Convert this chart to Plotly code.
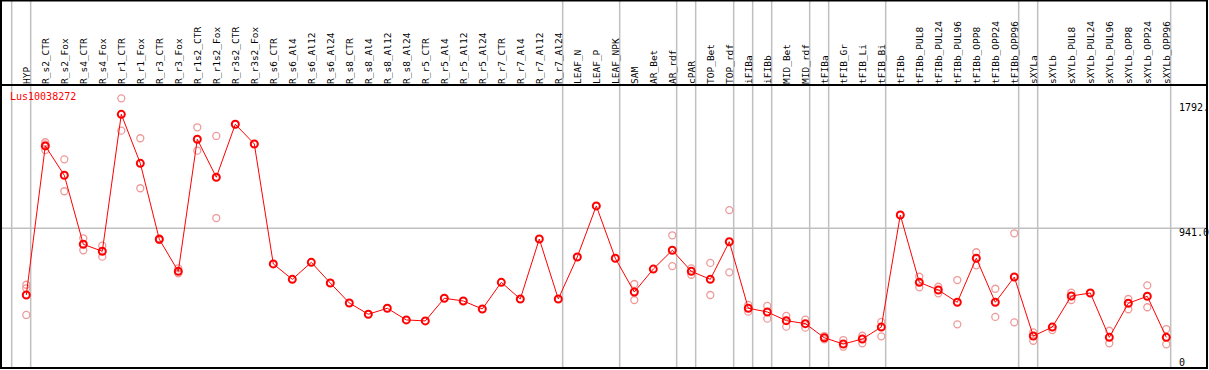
import plotly.graph_objects as go

categories = ["HYP", "R_s2_CTR", "R_s2_Fox", "R_s4_CTR", "R_s4_Fox", "R_r1_CTR", "R_r1_Fox",
              "R_r3_CTR", "R_r3_Fox", "R_r1s2_CTR", "R_r1s2_Fox", "R_r3s2_CTR", "R_r3s2_Fox",
              "R_s6_CTR", "R_s6_Al4", "R_s6_Al12", "R_s6_Al24", "R_s8_CTR", "R_s8_Al4",
              "R_s8_Al12", "R_s8_Al24", "R_r5_CTR", "R_r5_Al4", "R_r5_Al12", "R_r5_Al24",
              "R_r7_CTR", "R_r7_Al4", "R_r7_Al12", "R_r7_Al24", "LEAF_N", "LEAF_P", "LEAF_NPK",
              "SAM", "AR_Bet", "AR_rdf", "cPAR", "TOP_Bet", "TOP_rdf", "iFIBa", "iFIBb",
              "MID_Bet", "MID_rdf", "tFIBa", "tFIB_Gr", "tFIB_Li", "tFIB_Bi", "tFIBb",
              "tFIBb_PUL8", "tFIBb_PUL24", "tFIBb_PUL96", "tFIBb_OPP8", "tFIBb_OPP24",
              "tFIBb_OPP96", "sXYLa", "sXYLb", "sXYLb_PUL8", "sXYLb_PUL24", "sXYLb_PUL96",
              "sXYLb_OPP8", "sXYLb_OPP24", "sXYLb_OPP96"]

mean_values = [473, 1519, 1313, 829, 780, 1741, 1397, 864, 639, 1566, 1299, 1671, 1533,
               691, 583, 702, 557, 417, 338, 380, 298, 291, 450, 431, 375, 562, 445, 866, 445,
               740, 1098, 731, 494, 655, 787, 639, 583, 847, 380, 354, 293, 272, 173, 129, 164,
               248, 1034, 562, 508, 422, 731, 422, 599, 185, 248, 466, 487, 176, 415, 464, 176]

replicate_values = [
    [545, 520, 333], [1545, 1530, 1490], [1425, 1201], [871, 787], [819, 742],
    [1853, 1626], [1573, 1222], [870, 858], [660, 625], [1650, 1486], [1589, 1013],
    [1671], [1533], [], [], [], [], [], [], [], [], [], [], [], [], [], [], [], [],
    [], [], [], [550, 495, 438], [], [892, 676], [660, 615], [698, 473], [1069, 632],
    [403, 356], [396, 307], [326, 251], [300, 244], [185, 162], [157, 110], [187, 134],
    [284, 183], [], [601, 527], [531, 485], [578, 267], [773, 681], [517, 319],
    [906, 281], [211, 152], [227], [489, 438], [], [222, 134], [445, 373], [541, 387],
    [234, 127]]

group_ends = [-1, 0, 28, 31, 34, 35, 37, 38, 39, 41, 42, 45, 52, 53, 60]

y_tick_values = [1792, 941, 0]
y_tick_labels = ["1792.", "941.0", "0"]

gene_name = "Lus10038272"

W, H = 1209, 370
L, R, T, B = 1, 1207, 85, 368
PW, PH = R - L, B - T


def px_to_paper_x(px):
    return (px - L) / PW


def py_to_paper_y(py):
    return (B - py) / PH


rep_x, rep_y = [], []
for i, reps in enumerate(replicate_values):
    for v in reps:
        rep_x.append(i)
        rep_y.append(v)

mono = "DejaVu Sans Mono"

fig = go.Figure()
fig.add_trace(go.Scatter(
    x=rep_x, y=rep_y, mode="markers",
    marker=dict(symbol="circle-open", size=7, color="#ee9a9a", line=dict(width=1.3)),
    hoverinfo="skip", showlegend=False))
fig.add_trace(go.Scatter(
    x=list(range(len(categories))), y=mean_values, mode="lines+markers",
    line=dict(color="#ff0000", width=1),
    marker=dict(symbol="circle-open", size=7, color="#ff0000", line=dict(width=2)),
    showlegend=False))

shapes = []
for g in group_ends:
    shapes.append(dict(type="line", xref="x", yref="paper", x0=g + 0.23, x1=g + 0.23,
                       y0=0, y1=py_to_paper_y(0), line=dict(color="#c0c0c0", width=1.5),
                       layer="below"))
shapes.append(dict(type="line", xref="paper", yref="y", x0=0, x1=1,
                   y0=y_tick_values[1], y1=y_tick_values[1],
                   line=dict(color="#c0c0c0", width=1.5), layer="below"))
shapes.append(dict(type="rect", xref="paper", yref="paper", x0=0, x1=1,
                   y0=0, y1=py_to_paper_y(0.5), line=dict(color="black", width=2)))
shapes.append(dict(type="line", xref="paper", yref="paper", x0=0, x1=1, y0=1, y1=1,
                   line=dict(color="black", width=2)))

annotations = [dict(text=gene_name, xref="paper", yref="paper",
                    x=px_to_paper_x(8), y=py_to_paper_y(97), xanchor="left", yanchor="middle",
                    showarrow=False, font=dict(family=mono, size=10, color="#ff0000"))]
for v, t in zip(y_tick_values, y_tick_labels):
    annotations.append(dict(text=t, xref="paper", yref="y", x=px_to_paper_x(1177), y=v,
                            xanchor="left", yanchor="middle", showarrow=False,
                            yshift=-4 if t == "941.0" else 0,
                            font=dict(family=mono, size=10, color="black")))

x_lo = (L - 26.3) / 19
x_hi = (R - 26.3) / 19
y_lo = (362.4 - B) / 0.1425
y_hi = (362.4 - T) / 0.1425

fig.update_layout(
    width=W, height=H, margin=dict(l=L, r=W - R, t=T, b=H - B),
    paper_bgcolor="white", plot_bgcolor="white",
    xaxis=dict(range=[x_lo, x_hi], side="top", tickmode="array",
               tickvals=[i + 0.05 for i in range(len(categories))], ticktext=categories,
               tickangle=-90, ticks="", showgrid=False, zeroline=False,
               tickfont=dict(family=mono, size=9.5, color="black"), showline=False),
    yaxis=dict(range=[y_lo, y_hi], showticklabels=False, ticks="", showgrid=False,
               zeroline=False, showline=False),
    shapes=shapes, annotations=annotations,
)

fig.write_html("out.html", config={"displayModeBar": False},
               post_script="document.body.style.margin='0';")
